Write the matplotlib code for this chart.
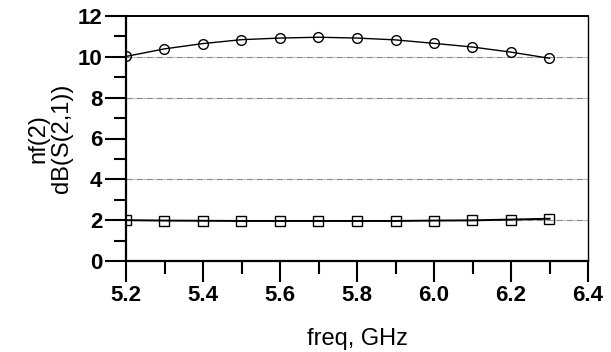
import numpy as np
import matplotlib.pyplot as plt
from matplotlib.ticker import MultipleLocator

# data
freq = [5.2, 5.3, 5.4, 5.5, 5.6, 5.7, 5.8, 5.9, 6.0, 6.1, 6.2, 6.3]
s21_db = [10.02, 10.39, 10.65, 10.84, 10.92, 10.96, 10.92, 10.83, 10.66, 10.48, 10.23, 9.93]
nf = [2.00, 1.98, 1.97, 1.96, 1.96, 1.96, 1.96, 1.96, 1.98, 1.99, 2.03, 2.07]
grid_levels = [2, 4, 8, 10]

plt.rcParams['font.family'] = ['Liberation Sans', 'DejaVu Sans']

fig = plt.figure(figsize=(6.11, 3.52), dpi=100)
ax = fig.add_axes([126/611, 1-261/352, (588-126)/611, (261-16)/352])

for g in grid_levels:
    ax.axhline(g, color='#888888', lw=0.8, ls=(0, (6, 1, 1, 1)), zorder=0)

ax.plot(freq, s21_db, color='black', lw=1.0, marker='o', ms=7,
        mfc='none', mec='black', mew=1.0)
ax.plot(freq, nf, color='black', lw=1.4, marker='s', ms=7,
        mfc='none', mec='black', mew=1.0)

ax.set_xlim(5.2, 6.4)
ax.set_ylim(0, 12)
ax.xaxis.set_major_locator(MultipleLocator(0.2))
ax.xaxis.set_minor_locator(MultipleLocator(0.1))
ax.yaxis.set_major_locator(MultipleLocator(2))
ax.yaxis.set_minor_locator(MultipleLocator(1))
ax.set_xticks([5.2, 5.4, 5.6, 5.8, 6.0, 6.2, 6.4])
ax.set_xticklabels(['5.2', '5.4', '5.6', '5.8', '6.0', '6.2', '6.4'])
ax.tick_params(which='major', direction='out', length=15, width=1.5,
               labelsize=16, pad=2)
ax.tick_params(which='minor', direction='out', length=9, width=1.5)
for lab in ax.get_xticklabels() + ax.get_yticklabels():
    lab.set_fontweight('bold')

ax.spines['left'].set_linewidth(1.6)
ax.spines['bottom'].set_linewidth(1.6)
ax.spines['top'].set_linewidth(1.4)
ax.spines['right'].set_linewidth(1.0)

ax.set_xlabel('freq, GHz', fontsize=17, labelpad=16)
ax.set_ylabel('nf(2)\ndB(S(2,1))', fontsize=17, labelpad=3, linespacing=1.12)

fig.savefig('out.png', dpi=100)
